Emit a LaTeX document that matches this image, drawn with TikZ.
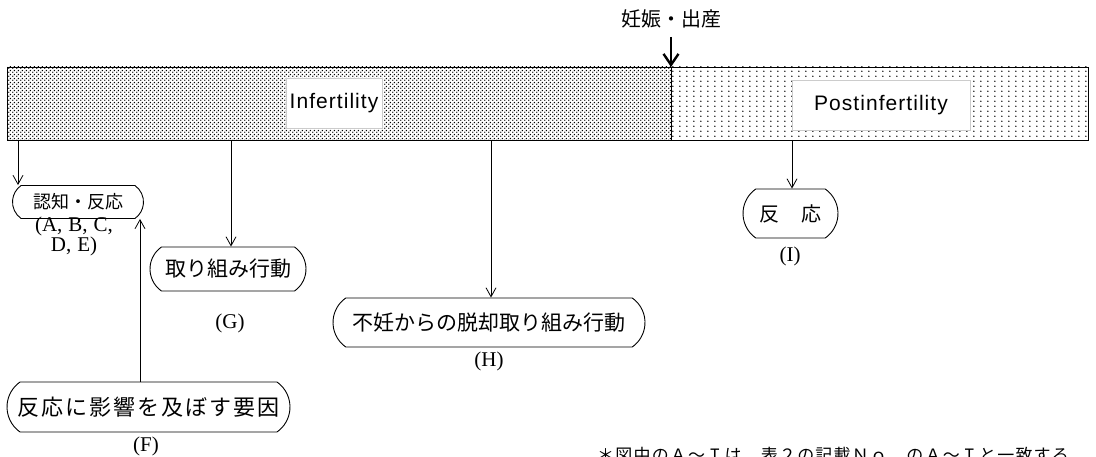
\documentclass[tikz,border=0pt]{standalone}
\usepackage{fontspec}
\setmainfont{Liberation Serif}
\newfontfamily\jp{Noto Sans CJK JP}
\newfontfamily\lat{Liberation Sans}
\usetikzlibrary{arrows.meta,patterns,shapes.misc}
\pgfdeclarepatternformonly{mydense}{\pgfqpoint{0pt}{0pt}}{\pgfqpoint{4pt}{4pt}}{\pgfqpoint{4pt}{4pt}}{%
  \pgfpathcircle{\pgfqpoint{1pt}{1pt}}{0.9pt}%
  \pgfpathcircle{\pgfqpoint{3pt}{3pt}}{0.9pt}%
  \pgfusepath{fill}}
\pgfdeclarepatternformonly{mysparse}{\pgfqpoint{0pt}{0pt}}{\pgfqpoint{7pt}{5pt}}{\pgfqpoint{7pt}{5pt}}{%
  \pgfpathcircle{\pgfqpoint{1pt}{1pt}}{0.85pt}%
  \pgfusepath{fill}}
\tikzset{
  pill/.style={rounded rectangle, rounded rectangle arc length=110, draw, line width=0.9pt, inner sep=0pt},
  arr/.style={-{Straight Barb[length=9pt,width=10pt]}, line width=0.8pt},
  bigarr/.style={-{Straight Barb[length=11pt,width=15pt]}, line width=2.4pt},
  lab/.style={font=\fontsize{21}{19}\selectfont, inner sep=0pt, align=center},
  jpf/.style={font=\jp\fontsize{#1}{#1}\selectfont},
  tag/.style={fill=white, draw=black!20, line width=0.4pt, inner sep=0pt, font=\lat\fontsize{21}{21}\selectfont\addfontfeature{LetterSpace=5}},
}
\begin{document}
\begin{tikzpicture}[x=1pt,y=-1pt]
\useasboundingbox (0,0) rectangle (1096,457);
% bar
\path[pattern=mydense, pattern color=black] (7,67) rectangle (671,140);
\path[pattern=mysparse, pattern color=black] (671,67) rectangle (1088,140);
\draw[line width=0.9pt] (7,67) rectangle (1088,140);
\draw[line width=0.9pt] (671,67) -- (671,140);
\node[tag, minimum width=96pt, minimum height=50pt] (inf) at (334,103) {Infertility};
\node[tag, minimum width=178pt, minimum height=50pt] (post) at (881,105) {Postinfertility};
% birth marker
\node[jpf=20, inner sep=0pt] (birth) at (671,19) {妊娠・出産};
\coordinate (bt) at (671,67);
\draw[bigarr] (birth.south |- 0,37) -- (bt);
% nodes
\node[pill, jpf=18, minimum width=131pt, minimum height=33pt] (rn) at (78,202) {認知・反応};
\node[pill, jpf=21, minimum width=156pt, minimum height=44pt] (gn) at (228,269) {取り組み行動};
\node[pill, jpf=21, minimum width=312pt, minimum height=49pt] (hn) at (489,322.5) {不妊からの脱却取り組み行動};
\node[pill, jpf=20, minimum width=95pt, minimum height=49pt] (in) at (790.5,213.5) {反\hspace{22pt}応};
\node[pill, font=\jp\fontsize{22}{22}\selectfont\addfontfeature{LetterSpace=9}, minimum width=283pt, minimum height=50pt] (fn) at (148.5,407) {反応に影響を及ぼす要因};
% labels
\node[lab] (ra) at (74,236) {(A,\hspace{6pt}B,\hspace{6pt}C,\\D,\hspace{6pt}E)};
\node[lab] (gl) at (230,323) {(G)};
\node[lab] (hl) at (489,361) {(H)};
\node[lab] (il) at (790,256) {(I)};
\node[lab] (fl) at (146,446) {(F)};
% connectors
\coordinate (s1) at (18,140);
\coordinate (s2) at (231,140);
\coordinate (s3) at (491,140);
\coordinate (s4) at (792,140);
\draw[arr] (s1) -- (s1 |- rn.north);
\draw[arr] (s2) -- (s2 |- gn.north);
\draw[arr] (s3) -- (s3 |- hn.north);
\draw[arr] (s4) -- (s4 |- in.north);
\coordinate (fu) at (140,0);
\draw[arr] (fu |- fn.north) -- (fu |- rn.south);
% footnote (cut off at bottom edge, as in the reference)
\begin{scope}
\clip (0,0) rectangle (1096,457);
\node[anchor=west, font=\jp\fontsize{17}{17}\selectfont\addfontfeature{LetterSpace=7}, inner sep=0pt] (note) at (597,455) {＊図中のＡ～Ｉは，表２の記載Ｎｏ．のＡ～Ｉと一致する};
\end{scope}
\end{tikzpicture}
\end{document}
